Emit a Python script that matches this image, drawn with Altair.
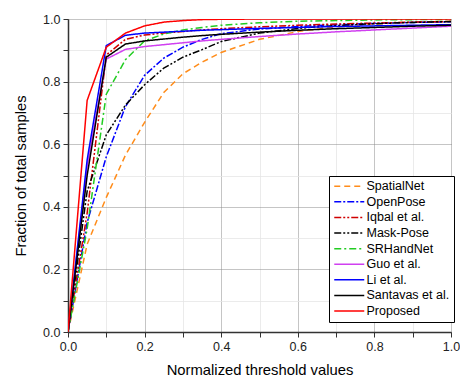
import altair as alt
import pandas as pd

thresholds = [0, 0.05, 0.1, 0.15, 0.2, 0.25, 0.3, 0.35, 0.4, 0.5, 0.6, 0.7, 0.8, 0.9, 1.0]

series_names = ["SpatialNet", "OpenPose", "Iqbal et al.", "Mask-Pose", "SRHandNet",
                "Guo et al.", "Li et al.", "Santavas et al.", "Proposed"]

spatialnet = [0, 0.28, 0.43, 0.565, 0.67, 0.765, 0.825, 0.862, 0.893, 0.935, 0.96, 0.975, 0.984, 0.99, 0.993]
openpose = [0, 0.35, 0.56, 0.72, 0.82, 0.875, 0.91, 0.935, 0.953, 0.968, 0.976, 0.982, 0.986, 0.989, 0.991]
iqbal = [0, 0.38, 0.885, 0.935, 0.949, 0.955, 0.96, 0.965, 0.969, 0.975, 0.98, 0.984, 0.987, 0.99, 0.992]
maskpose = [0, 0.45, 0.63, 0.725, 0.79, 0.843, 0.878, 0.902, 0.928, 0.955, 0.97, 0.979, 0.985, 0.989, 0.992]
srhandnet = [0, 0.33, 0.76, 0.87, 0.93, 0.952, 0.965, 0.973, 0.98, 0.988, 0.993, 0.995, 0.997, 0.998, 0.999]
guo = [0, 0.53, 0.872, 0.903, 0.912, 0.918, 0.924, 0.93, 0.935, 0.944, 0.952, 0.959, 0.965, 0.971, 0.977]
li = [0, 0.55, 0.915, 0.948, 0.955, 0.958, 0.961, 0.964, 0.966, 0.97, 0.973, 0.976, 0.978, 0.98, 0.982]
santavas = [0, 0.5, 0.878, 0.92, 0.93, 0.936, 0.942, 0.947, 0.951, 0.958, 0.964, 0.969, 0.973, 0.977, 0.98]
proposed = [0, 0.74, 0.91, 0.955, 0.978, 0.99, 0.995, 0.998, 0.999, 1, 1, 1, 1, 1, 1]

colors = ["#FF8C1A", "#0000FF", "#D00000", "#000000", "#22CC22",
          "#D040F0", "#0000FF", "#000000", "#FF0000"]
dashes = [[6, 4], [7, 2, 2, 2], [7, 2, 2, 2, 2, 2], [7, 2, 2, 2, 2, 2], [7, 3, 2, 3],
          [1, 0], [1, 0], [1, 0], [1, 0]]

all_series = [spatialnet, openpose, iqbal, maskpose, srhandnet, guo, li, santavas, proposed]
rows = []
for name, vals in zip(series_names, all_series):
    for t, v in zip(thresholds, vals):
        rows.append({"method": name, "t": t, "frac": v})
df = pd.DataFrame(rows)

tick_vals = [round(i * 0.1, 1) for i in range(11)]
major_test = "round(datum.value*10) % 2 == 0"
label_expr = "round(datum.value*10) % 2 == 0 ? format(datum.value, '.1f') : ''"


def make_axis(title, **kw):
    return alt.Axis(
        values=tick_vals,
        labelExpr=label_expr,
        labelFlush=False,
        labelOverlap=False,
        title=title,
        grid=True,
        gridColor={"condition": {"test": major_test, "value": "#8a8a8a"}, "value": "#e4e4e4"},
        gridDash={"condition": {"test": major_test, "value": [1, 1]}, "value": [1, 0]},
        gridWidth=1,
        **kw,
    )


legend = alt.Legend(
    title=None,
    orient="none",
    legendX=261,
    legendY=157,
    fillColor="white",
    strokeColor="#000000",
    padding=4,
    symbolType="M-1,0H5",
    symbolSize=100,
    symbolStrokeWidth=1.5,
    labelOffset=21,
    labelFontSize=12.5,
    labelFont="Liberation Sans",
    labelColor="#000000",
    rowPadding=2.6,
    labelLimit=200,
)

chart = alt.Chart(df).mark_line(strokeWidth=1.5, clip=True).encode(
    x=alt.X("t:Q", scale=alt.Scale(domain=[0, 1], nice=False),
            axis=make_axis("Normalized threshold values", titlePadding=10)),
    y=alt.Y("frac:Q", scale=alt.Scale(domain=[0, 1], nice=False),
            axis=make_axis("Fraction of total samples", titlePadding=14)),
    color=alt.Color("method:N", scale=alt.Scale(domain=series_names, range=colors), legend=legend),
    strokeDash=alt.StrokeDash("method:N", scale=alt.Scale(domain=series_names, range=dashes), legend=legend),
    detail="method:N",
).properties(
    width=383,
    height=313,
    autosize=alt.AutoSizeParams(type="none"),
    padding={"left": 60, "top": 11, "right": 9, "bottom": 48},
).configure_view(
    stroke=None
).configure_axis(
    domainColor="#333333",
    domainWidth=1.5,
    tickColor="#333333",
    tickSize=5,
    tickWidth=1,
    labelFont="Liberation Sans",
    labelFontSize=12.5,
    labelColor="#222222",
    labelPadding=3,
    titleFont="Liberation Sans",
    titleFontSize=14.8,
    titleFontWeight="normal",
    titleColor="#000000",
)

chart.save("out.html", embed_options={"renderer": "svg", "actions": False})
